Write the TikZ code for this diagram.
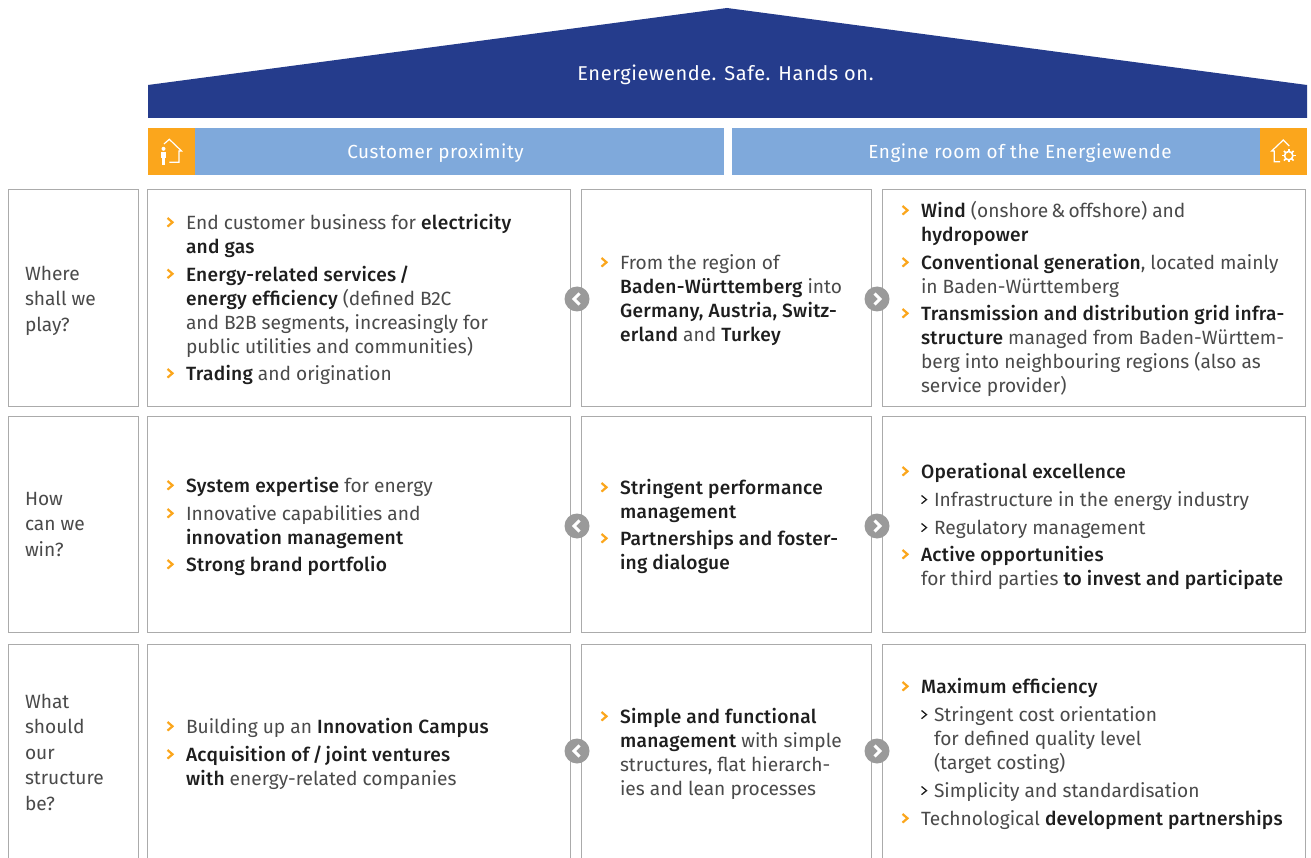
\documentclass[tikz,border=0pt]{standalone}
\usepackage{fontspec}
\setmainfont{Fira Sans}[BoldFont={* Medium},BoldFeatures={LetterSpace=1.5}]
\definecolor{roofblue}{HTML}{253C8C}
\definecolor{barblue}{HTML}{7FA9DB}
\definecolor{iconorange}{HTML}{FBA61C}
\definecolor{boxgray}{HTML}{ABABAB}
\definecolor{circgray}{HTML}{9A9A9A}
\definecolor{txtgray}{HTML}{4A4A4A}
\definecolor{txtdark}{HTML}{1E1E1E}
\newcommand{\bo}[1]{{\bfseries\color{txtdark}#1}}
\newcommand{\obul}[2]{\draw[orangebul] (#1-2.5,#2-10.5) -- (#1+2.5,#2-6.2) -- (#1-2.5,#2-1.9);}
\newcommand{\kbul}[2]{\draw[blackbul] (#1-2.5,#2-10) -- (#1+2.5,#2-5.9) -- (#1-2.5,#2-1.8);}
\newcommand{\circl}[3]{\node[roundbtn] (#1) at (#2,#3) {};\draw[chev] (#2+2.5,#3-5.5) -- (#2-3,#3) -- (#2+2.5,#3+5.5);}
\newcommand{\circr}[3]{\node[roundbtn] (#1) at (#2,#3) {};\draw[chev] (#2-2.5,#3-5.5) -- (#2+3,#3) -- (#2-2.5,#3+5.5);}
\tikzset{x=1pt,y=-1pt,
  cell/.style={draw=boxgray,line width=1pt},
  body/.style={anchor=base west,inner sep=0pt,outer sep=0pt,align=left,text=txtgray,yshift=-0.7pt,font=\fontsize{19.15}{24}\selectfont},
  side/.style={body,font=\fontsize{19.15}{25.4}\selectfont},
  head/.style={text=white,font=\fontsize{18.9}{22}\selectfont\addfontfeatures{LetterSpace=3}},
  roofhead/.style={text=white,font=\fontsize{20}{22}\selectfont\addfontfeatures{LetterSpace=3}},
  orangebul/.style={draw=iconorange,line width=2.2pt},
  blackbul/.style={draw=txtdark,line width=1.3pt},
  roundbtn/.style={circle,fill=circgray,minimum size=25pt,inner sep=0pt},
  chev/.style={draw=white,line width=3pt},
  iconline/.style={draw=white,line width=1.2pt},
}
\begin{document}
\begin{tikzpicture}
\useasboundingbox[fill=white] (0,0) rectangle (1311,858);
% roof
\fill[roofblue] (148,85) -- (727,8) -- (1307,85) -- (1307,118) -- (148,118) -- cycle;
\node[roofhead] (roof) at (725.5,75) {Energiewende. Safe. Hands on.};
% bars
\fill[barblue] (148,128) rectangle (724,175);
\fill[barblue] (732,128) rectangle (1307,175);
\fill[iconorange] (148,128) rectangle (195,175);
\fill[iconorange] (1260,128) rectangle (1307,175);
\node[head] (bar1) at (435.5,153.6) {Customer proximity};
\node[head] (bar2) at (1020,153.6) {Engine room of the Energiewende};
% left icon
\draw[iconline] (164,144) -- (169.3,139.3) -- (181.5,151) -- (179,151) -- (179,162.3) -- (169.3,162.3);
\fill[white] (163.5,148.8) circle (2);
\fill[white] (160.8,151.8) rectangle (166.2,158.5);
\fill[white] (162,158) rectangle (165,165);
% right icon
\draw[iconline] (1289.3,146) -- (1283.3,140) -- (1271.7,151) -- (1274.3,151) -- (1274.3,161.7) -- (1280,161.7);
\draw[white,line width=1.6pt] (1288.7,155.7) circle (4.2);
\foreach \a in {0,45,...,315}{\draw[white,line width=1.6pt] (1288.7,155.7) ++(\a:4.2) -- ++(\a:2.6);}
% cells
\draw[cell] (8.7,190) rectangle (138.7,406);
\draw[cell] (147.7,190) rectangle (570.7,406);
\draw[cell] (581.2,190) rectangle (871.7,406);
\draw[cell] (882.7,190) rectangle (1305.7,406);
\draw[cell] (8.7,416) rectangle (138.7,632);
\draw[cell] (147.7,416) rectangle (570.7,632);
\draw[cell] (581.2,416) rectangle (871.7,632);
\draw[cell] (882.7,416) rectangle (1305.7,632);
\draw[cell] (8.7,858) -- (8.7,644) -- (138.7,644) -- (138.7,858);
\draw[cell] (147.7,858) -- (147.7,644) -- (570.7,644) -- (570.7,858);
\draw[cell] (581.2,858) -- (581.2,644) -- (871.7,644) -- (871.7,858);
\draw[cell] (882.7,858) -- (882.7,644) -- (1305.7,644) -- (1305.7,858);
% side labels
\node[side] (s1) at (25,330.3) {Where\\shall we\\play?};
\node[side] (s2) at (25,555.3) {How\\can we\\win?};
\node[side] (s3) at (25,809.3) {What\\should\\our\\structure\\be?};
% row 1
\node[body] (a1) at (186,252.5) {End customer business for \bo{electricity}\\\bo{and gas}};
\node[body] (a2) at (186,352.5) {\bo{Energy-related services\,/}\\\bo{energy efficiency} (defined B2C\\and B2B segments, increasingly for\\public utilities and communities)};
\node[body] (a3) at (186,379.5) {\bo{Trading} and origination};
\obul{170}{228.5}\obul{170}{280}\obul{170}{379.5}
\node[body] (b1) at (620,340.5) {From the region of\\\bo{Baden-Württemberg} into\\\bo{Germany, Austria, Switz-}\\\bo{erland} and \bo{Turkey}};
\obul{604}{268.5}
\node[body] (c1) at (921,240.5) {\bo{Wind} (onshore\,\&\,offshore) and\\\bo{hydropower}};
\node[body] (c2) at (921,292.5) {\bo{Conventional generation}, located mainly\\in Baden-Württemberg};
\node[body] (c3) at (921,391.5) {\bo{Transmission and distribution grid infra-}\\\bo{structure} managed from Baden-Württem-\\berg into neighbouring regions (also as\\service provider)};
\obul{905}{216.5}\obul{905}{268.5}\obul{905}{319.5}
% row 2
\node[body] (d1) at (186,491.5) {\bo{System expertise} for energy};
\node[body] (d2) at (186,543.5) {Innovative capabilities and\\\bo{innovation management}};
\node[body] (d3) at (186,570.5) {\bo{Strong brand portfolio}};
\obul{170}{491.5}\obul{170}{519.5}\obul{170}{570.5}
\node[body] (e1) at (620,517.5) {\bo{Stringent performance}\\\bo{management}};
\node[body] (e2) at (620,568.5) {\bo{Partnerships and foster-}\\\bo{ing dialogue}};
\obul{604}{493.5}\obul{604}{544.5}
\node[body] (f1) at (921,477.5) {\bo{Operational excellence}};
\node[body] (f2) at (934,505.5) {Infrastructure in the energy industry};
\node[body] (f3) at (934,533.5) {Regulatory management};
\node[body] (f4) at (921,584.5) {\bo{Active opportunities}\\for third parties \bo{to invest and participate}};
\obul{905}{477.5}\obul{905}{560.5}\kbul{924}{505.5}\kbul{924}{533.5}
% row 3
\node[body] (g1) at (186,732.5) {Building up an \bo{Innovation Campus}};
\node[body] (g2) at (186,784.5) {\bo{Acquisition of\,/\,joint ventures}\\\bo{with} energy-related companies};
\obul{170}{732.5}\obul{170}{760.5}
\node[body] (h1) at (620,794.5) {\bo{Simple and functional}\\\bo{management} with simple\\structures, flat hierarch-\\ies and lean processes};
\obul{604}{722.5}
\node[body] (i1) at (921,692.5) {\bo{Maximum efficiency}};
\node[body] (i2) at (934,768.5) {Stringent cost orientation\\for defined quality level\\(target costing)};
\node[body] (i3) at (934,796.5) {Simplicity and standardisation};
\node[body] (i4) at (921,824.5) {Technological \bo{development partnerships}};
\obul{905}{692.5}\obul{905}{824.5}\kbul{924}{720.5}\kbul{924}{796.5}
% round buttons
\circl{l1}{577}{299}\circr{r1}{877}{299}
\circl{l2}{577}{526}\circr{r2}{877}{526}
\circl{l3}{577}{751}\circr{r3}{877}{751}
\end{tikzpicture}
\end{document}
